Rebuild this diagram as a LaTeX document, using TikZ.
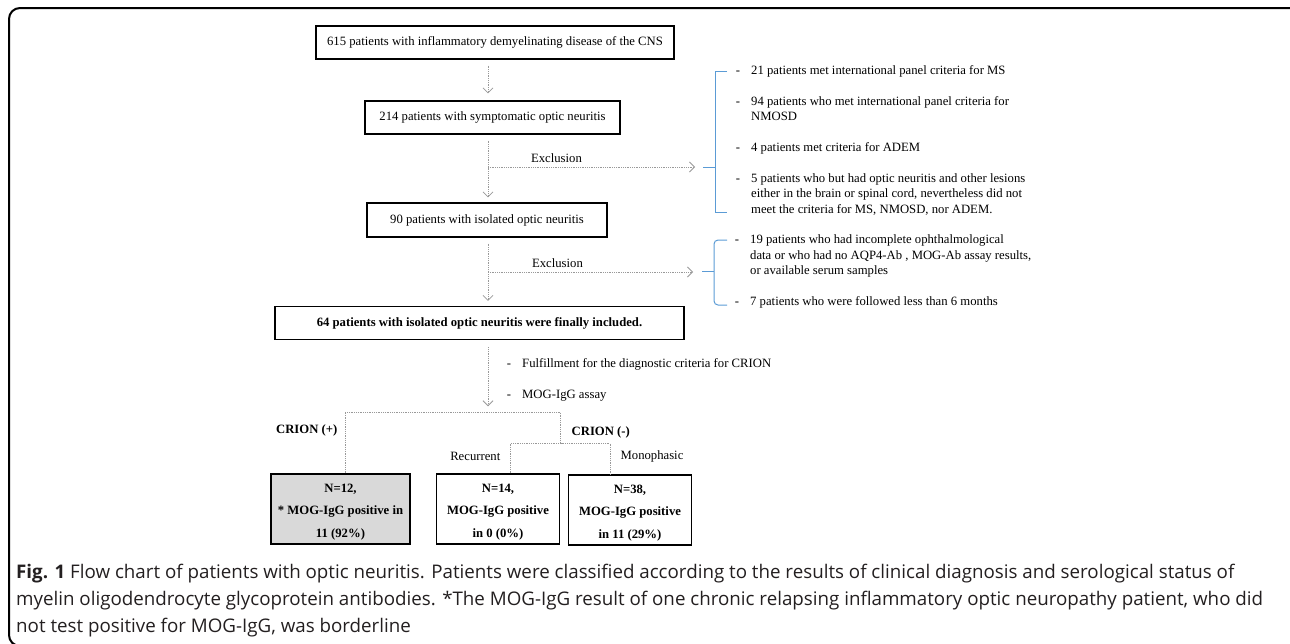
\documentclass[tikz,border=0pt]{standalone}
\usepackage{fontspec}
\setmainfont{Liberation Serif}
\newfontfamily\capfont{Open Sans}
\usetikzlibrary{arrows.meta}
\definecolor{bracketblue}{HTML}{5B9BD5}
\definecolor{boxgray}{HTML}{D9D9D9}
\definecolor{captext}{HTML}{231F20}

\begin{document}
\begin{tikzpicture}[x=1pt, y=-1pt,
	every node/.style={font=\fontsize{12.7}{15.5}\selectfont, inner sep=0pt},
	box/.style={draw, line width=1.2pt, align=center},
	flow/.style={draw=gray!80, line width=0.8pt, dash pattern=on 1pt off 0.8pt},
	arr/.style={-{Straight Barb[length=5pt,width=10pt]}},
	brk/.style={draw=bracketblue, line width=1pt},
	entry/.style={anchor=north west, align=left},
	hyph/.style={anchor=north},
	leaf/.style={align=center, font=\fontsize{12.7}{22.5}\selectfont\bfseries},
	bold/.style={font=\fontsize{12.7}{15.5}\selectfont\bfseries}]
	\useasboundingbox (0,0) rectangle (1290,643);
	
	% Frame
	\draw[line width=2pt, rounded corners=11pt] (1301,40) -- (1301,8) -- (9,8) -- (9,646) -- (40,646);
	
	\coordinate (spine) at (488,0);
	
	% Main boxes
	\node[box, minimum width=358, minimum height=33] (all) at (495,42.5) {615 patients with inflammatory demyelinating disease of the CNS};
	\node[box, minimum width=255, minimum height=33] (on) at (492.5,117.5) {214 patients with symptomatic optic neuritis};
	\node[box, minimum width=240, minimum height=34] (ion) at (487,220) {90 patients with isolated optic neuritis};
	\node[box, bold, minimum width=409, minimum height=33] (incl) at (479.5,323) {64 patients with isolated optic neuritis were finally included.};
	
	% Downward arrows
	\draw[flow, arr, shorten <=6pt, shorten >=7pt] (all.south -| spine) -- (on.north -| spine);
	\draw[flow, arr, shorten <=6pt, shorten >=5pt] (on.south -| spine) -- (ion.north -| spine);
	\draw[flow, arr, shorten <=6pt, shorten >=5pt] (ion.south -| spine) -- (incl.north -| spine);
	
	% Exclusions
	\coordinate (ex1) at (488,167);
	\coordinate (brk1) at (695,167);
	\coordinate (ex2) at (488,272);
	\coordinate (brk2) at (693,272);
	\draw[flow, arr] (ex1) -- (brk1);
	\draw[flow, arr] (ex2) -- (brk2);
	\node (exl1) at (556.5,158) {Exclusion};
	\node (exl2) at (557.5,263) {Exclusion};
	
	% Brackets
	\draw[brk] (703,167) -- (715,167);
	\draw[brk] (727,71) -- (715,71) -- (715,212) -- (727,212);
	\draw[brk] (702,271) -- (714,271);
	\draw[brk, rounded corners=4pt] (727,240) -- (714,240) -- (714,305) -- (727,305);
	
	% Excluded groups
	\foreach \y in {63,94,140,171}
	\node[hyph] (dash\y) at (738,\y) {\strut-};
	\foreach \y in {232.5,294}
	\node[hyph] (dash\y) at (737,\y) {\strut-};
	\node[entry] (msgrp) at (751,63) {\strut 21 patients met international panel criteria for MS};
	\node[entry] (nmogrp) at (751,94) {\strut 94 patients who met international panel criteria for\\NMOSD};
	\node[entry] (ademgrp) at (751,140) {\strut 4 patients met criteria for ADEM};
	\node[entry] (othgrp) at (751,171) {\strut 5 patients who but had optic neuritis and other lesions\\either in the brain or spinal cord, nevertheless did not\\meet the criteria for MS, NMOSD, nor ADEM.};
	\node[entry] (datagrp) at (750,232.5) {\strut 19 patients who had incomplete ophthalmological\\data or who had no AQP4-Ab , MOG-Ab assay results,\\or available serum samples};
	\node[entry] (fugrp) at (750,294) {\strut 7 patients who were followed less than 6 months};
	
	% Classification
	\coordinate (negtop) at (560.7,412.3);
	\coordinate (negsplit) at (560.7,443.3);
	\draw[flow, arr, shorten <=7pt, shorten >=6pt] (incl.south -| spine) -- (spine |- negtop);
	\node[hyph] (dash1) at (509,356) {\strut-};
	\node[hyph] (dash2) at (509,387) {\strut-};
	\node[entry] (crit) at (522,356) {\strut Fulfillment for the diagnostic criteria for CRION};
	\node[entry] (assay) at (522,387) {\strut MOG-IgG assay};
	
	\node[box, leaf, fill=boxgray, minimum width=139, minimum height=70] (pos) at (340.5,509) {\rule{0pt}{14pt}N=12,\\* MOG-IgG positive in\\11 (92\%)};
	\node[box, leaf, minimum width=122.6, minimum height=70] (rec) at (498,509) {\rule{0pt}{14pt}N=14,\\MOG-IgG positive\\in 0 (0\%)};
	\node[box, leaf, minimum width=122.7, minimum height=70] (mono) at (630,510) {\rule{0pt}{14pt}N=38,\\MOG-IgG positive\\in 11 (29\%)};
	
	\draw[flow] ([xshift=4.5pt]pos.north) |- (negtop) -- (negsplit);
	\draw[flow] ([xshift=12.7pt]rec.north) |- (negsplit) -| ([xshift=-20pt]mono.north);
	
	\node[bold] (crpos) at (306.7,430.7) {CRION (+)};
	\node[bold] (crneg) at (600.8,432) {CRION (-)};
	\node (recl) at (475.3,456) {Recurrent};
	\node (monol) at (652,456) {Monophasic};
	
	% Caption
	\node[anchor=north west, align=left, text=captext, font=\capfont\fontsize{18.75}{27}\selectfont] (caption) at (16,564)
	{{\bfseries Fig. 1} Flow chart of patients with optic neuritis. Patients were classified according to the results of clinical diagnosis and serological status of\\
	myelin oligodendrocyte glycoprotein antibodies. *The MOG-IgG result of one chronic relapsing inflammatory optic neuropathy patient, who did\\
	not test positive for MOG-IgG, was borderline};
\end{tikzpicture}
\end{document}
